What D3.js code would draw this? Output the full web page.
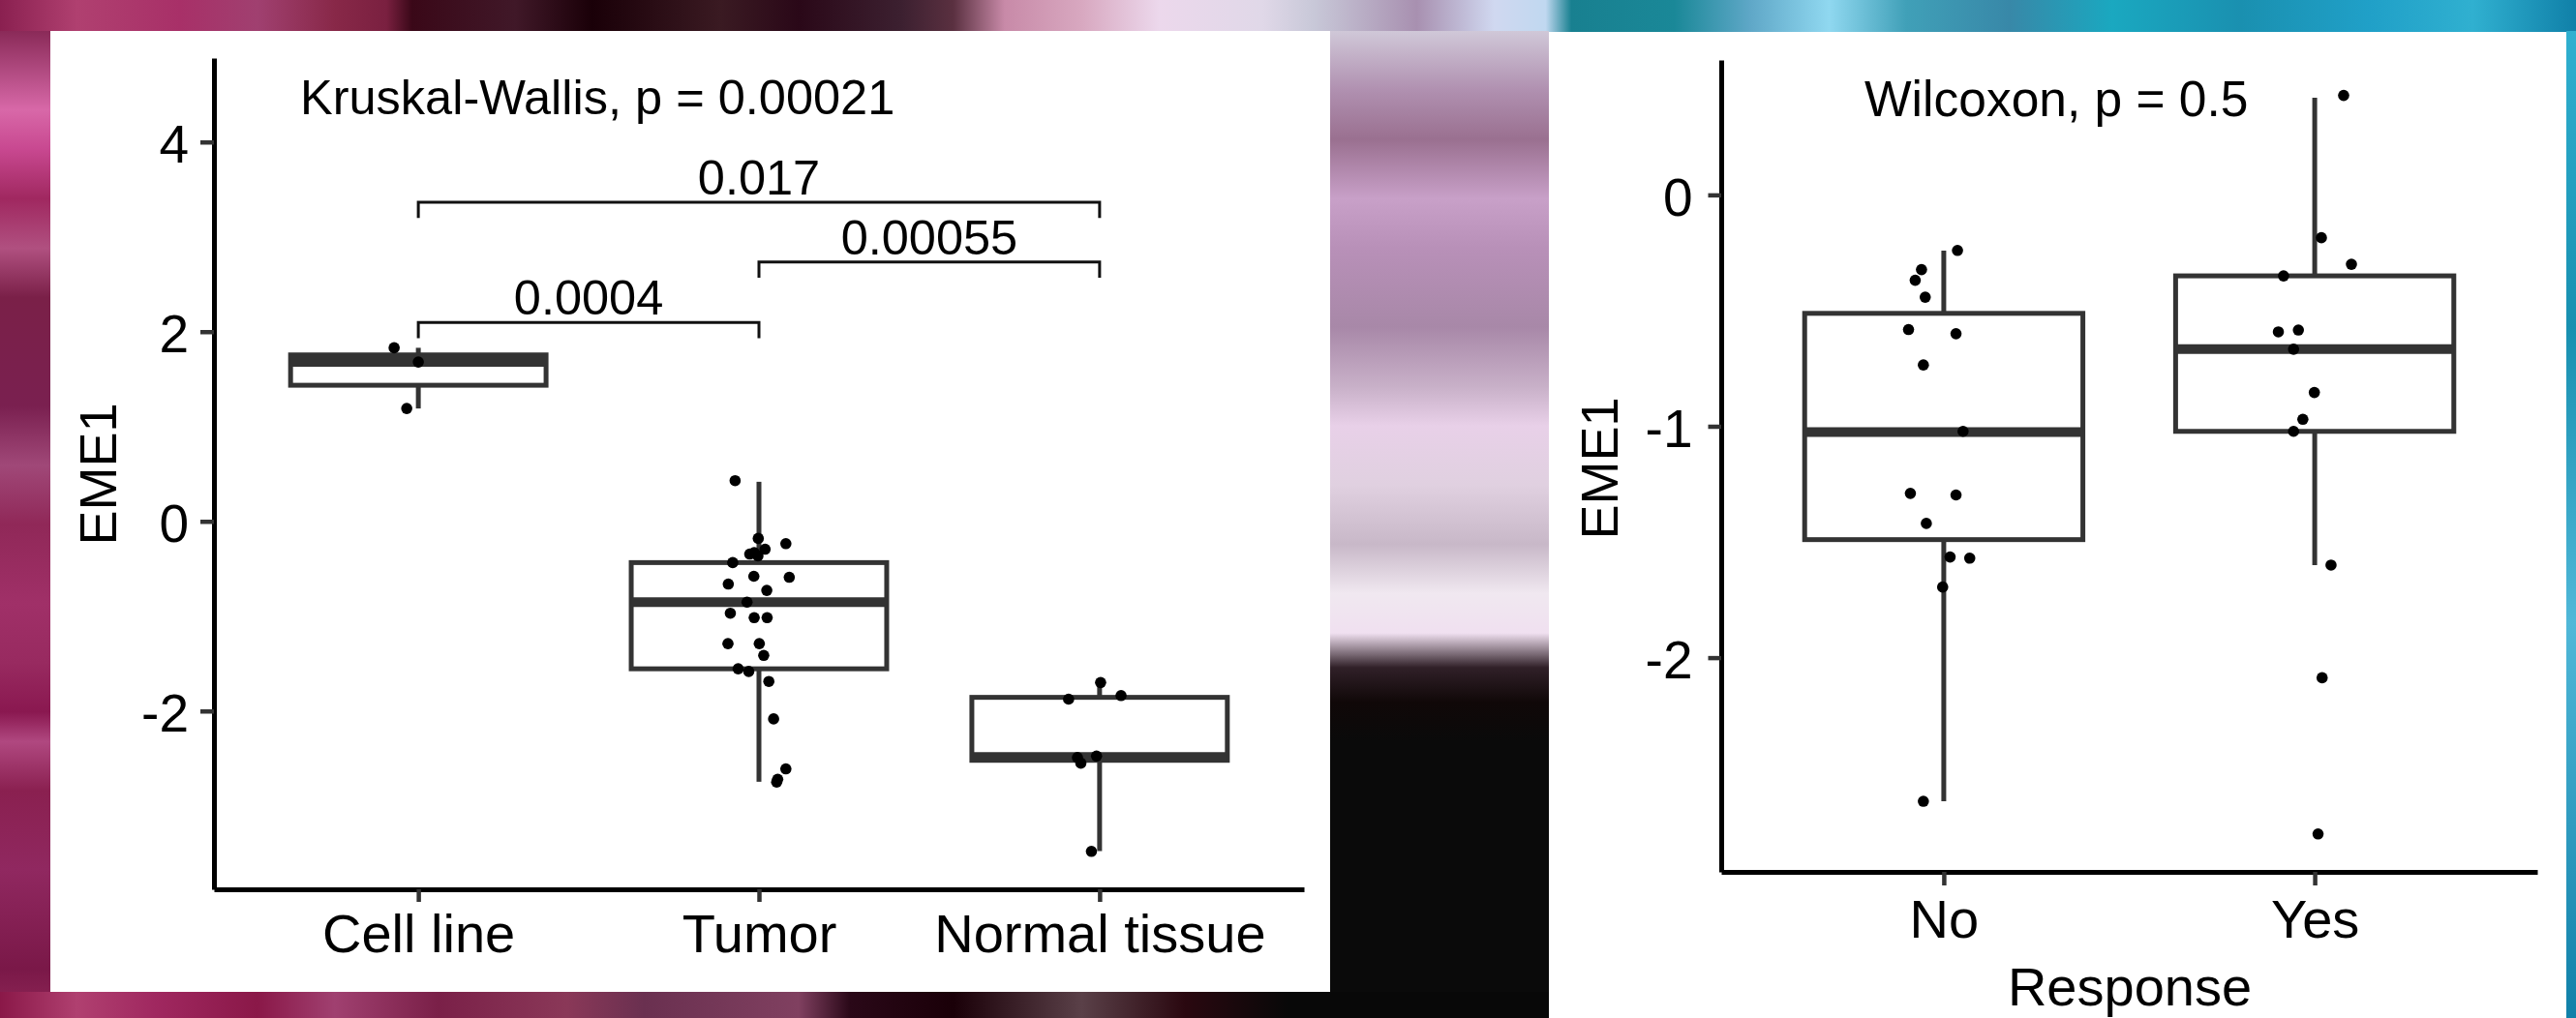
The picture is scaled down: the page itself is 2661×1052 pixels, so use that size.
<!DOCTYPE html>
<html>
<head>
<meta charset="utf-8">
<script src="https://cdn.jsdelivr.net/npm/d3@7"></script>
<style>
    body { margin: 0; background: #0a0a0a; overflow: hidden; }
    svg { display: block; font-family: "Liberation Sans", Arial, Helvetica, sans-serif; }
</style>
</head>
<body>
<script>
//---- data ----

//left panel: sample type
var leftGroups = ["Cell line", "Tumor", "Normal tissue"];
var cellLineValues = [1.83, 1.68, 1.19];
var cellLineJitter = [-0.071, 0.0, -0.034];
var tumorValues = [0.429, -0.18, -0.235, -0.294, -0.345, -0.364, -0.33, -0.435, -0.579, -0.59, -0.661, -0.728,
    -0.852, -0.969, -1.016, -1.016, -1.29, -1.29, -1.414, -1.555, -1.583, -1.688, -2.083, -2.61, -2.75, -2.72];
var tumorJitter = [-0.070, -0.002, 0.079, 0.018, -0.027, -0.003, -0.014, -0.077, -0.015, 0.089, -0.090, 0.023,
    -0.035, -0.084, -0.014, 0.024, -0.091, 0.001, 0.014, -0.061, -0.030, 0.029, 0.043, 0.079, 0.052, 0.055];
var normalValues = [-1.70, -1.875, -1.837, -2.49, -2.55, -2.475, -3.48];
var normalJitter = [0.003, -0.091, 0.063, -0.065, -0.055, -0.009, -0.024];

//box statistics per group (lower whisker, Q1, median, Q3, upper whisker)
var leftWhiskerLow = [1.19, -2.746, -3.477];
var leftQ1 = [1.435, -1.555, -2.52];
var leftMedian = [1.68, -0.852, -2.485];
var leftQ3 = [1.755, -0.435, -1.856];
var leftWhiskerHigh = [1.83, 0.417, -1.70];

var leftYTicks = [-2, 0, 2, 4];
var leftTestLabel = "Kruskal-Wallis, p = 0.00021";

//pairwise comparisons
var bracketFrom = ["Cell line", "Tumor", "Cell line"];
var bracketTo = ["Tumor", "Normal tissue", "Normal tissue"];
var bracketY = [2.096, 2.735, 3.364];
var bracketLabels = ["0.0004", "0.00055", "0.017"];

//right panel: response
var rightGroups = ["No", "Yes"];
var noValues = [-0.24, -0.323, -0.369, -0.442, -0.582, -0.60, -0.735, -1.022, -1.29, -1.297, -1.42, -1.565, -1.57, -1.695, -2.621];
var noJitter = [0.037, -0.060, -0.077, -0.050, -0.095, 0.033, -0.055, 0.052, -0.090, 0.033, -0.047, 0.017, 0.070, -0.003, -0.055];
var yesValues = [0.43, -0.185, -0.30, -0.35, -0.584, -0.592, -0.667, -0.854, -0.97, -1.022, -1.60, -2.087, -2.762];
var yesJitter = [0.078, 0.018, 0.099, -0.084, -0.044, -0.098, -0.057, -0.001, -0.032, -0.057, 0.044, 0.020, 0.009];

var rightWhiskerLow = [-2.621, -1.60];
var rightQ1 = [-1.49, -1.022];
var rightMedian = [-1.025, -0.667];
var rightQ3 = [-0.512, -0.35];
var rightWhiskerHigh = [-0.241, 0.42];

var rightYTicks = [-2, -1, 0];
var rightTestLabel = "Wilcoxon, p = 0.5";
var rightXTitle = "Response";
var yTitle = "EME1";

//begin script when window loads
window.onload = setChart();

function setChart(){
    var width = 2661,
        height = 1052;

    var svg = d3.select("body")
        .append("svg")
        .attr("width", width)
        .attr("height", height);

    drawBackground(svg);

    //white panels
    svg.append("rect").attr("x", 52).attr("y", 32).attr("width", 1322).attr("height", 993).attr("fill", "#fff");
    svg.append("rect").attr("x", 1600).attr("y", 33).attr("width", 1051).attr("height", 1019).attr("fill", "#fff");

    //left panel
    var left = drawPanel(svg, {
        groups: leftGroups,
        values: [cellLineValues, tumorValues, normalValues],
        jitter: [cellLineJitter, tumorJitter, normalJitter],
        low: leftWhiskerLow, q1: leftQ1, med: leftMedian, q3: leftQ3, high: leftWhiskerHigh,
        yDomain: [-3.88, 4.885], yTicks: leftYTicks,
        x0: 221, x1: 1347, y0: 60, y1: 919,
        ytickSize: 14, ytickPad: 12, xtickSize: 13, xtickPad: 12,
        title: leftTestLabel, titleX: 310, titleY: 118, titleSize: 50.5,
        yTitleX: 120, yTitleY: 490
    });

    //comparison brackets
    var tip = 0.165;
    var brackets = left.g.selectAll(".bracket")
        .data(bracketLabels)
        .enter()
        .append("g")
        .attr("class", "bracket");

    brackets.append("path")
        .attr("d", function(d, i){
            var xa = left.x(bracketFrom[i]), xb = left.x(bracketTo[i]);
            var yl = left.y(bracketY[i]), yt = left.y(bracketY[i] - tip);
            return "M" + xa + "," + yt + "V" + yl + "H" + xb + "V" + yt;
        })
        .attr("fill", "none")
        .attr("stroke", "#111")
        .attr("stroke-width", 3);

    brackets.append("text")
        .attr("x", function(d, i){ return (left.x(bracketFrom[i]) + left.x(bracketTo[i])) / 2; })
        .attr("y", function(d, i){ return left.y(bracketY[i]) - 8; })
        .attr("text-anchor", "middle")
        .attr("font-size", 50.5)
        .text(function(d){ return d; });

    //right panel
    var right = drawPanel(svg, {
        groups: rightGroups,
        values: [noValues, yesValues],
        jitter: [noJitter, yesJitter],
        low: rightWhiskerLow, q1: rightQ1, med: rightMedian, q3: rightQ3, high: rightWhiskerHigh,
        yDomain: [-2.926, 0.583], yTicks: rightYTicks,
        x0: 1778, x1: 2621, y0: 62, y1: 901,
        ytickSize: 13.5, ytickPad: 16, xtickSize: 14, xtickPad: 14,
        title: rightTestLabel, titleX: 1926, titleY: 120, titleSize: 51.5,
        yTitleX: 1671, yTitleY: 484
    });

    //x axis title (sits on the lower edge, as in the figure)
    svg.append("text")
        .attr("x", 2200)
        .attr("y", 1039)
        .attr("text-anchor", "middle")
        .attr("font-size", 56)
        .text(rightXTitle);
};

//one boxplot panel with jittered points
function drawPanel(svg, c){
    var g = svg.append("g");

    var x = d3.scalePoint()
        .domain(c.groups)
        .range([c.x0, c.x1])
        .padding(0.6);

    var y = d3.scaleLinear()
        .domain(c.yDomain)
        .range([c.y1, c.y0]);

    var bw = x.step() * 0.75;

    //boxes
    var boxes = g.selectAll(".box")
        .data(c.groups)
        .enter()
        .append("g")
        .attr("class", "box");

    boxes.append("line")
        .attr("x1", function(d){ return x(d); })
        .attr("x2", function(d){ return x(d); })
        .attr("y1", function(d, i){ return y(c.q3[i]); })
        .attr("y2", function(d, i){ return y(c.high[i]); })
        .attr("stroke", "#333")
        .attr("stroke-width", 5);

    boxes.append("line")
        .attr("x1", function(d){ return x(d); })
        .attr("x2", function(d){ return x(d); })
        .attr("y1", function(d, i){ return y(c.q1[i]); })
        .attr("y2", function(d, i){ return y(c.low[i]); })
        .attr("stroke", "#333")
        .attr("stroke-width", 5);

    boxes.append("rect")
        .attr("x", function(d){ return x(d) - bw / 2; })
        .attr("y", function(d, i){ return y(c.q3[i]); })
        .attr("width", bw)
        .attr("height", function(d, i){ return y(c.q1[i]) - y(c.q3[i]); })
        .attr("fill", "#fff")
        .attr("stroke", "#333")
        .attr("stroke-width", 5);

    boxes.append("line")
        .attr("x1", function(d){ return x(d) - bw / 2; })
        .attr("x2", function(d){ return x(d) + bw / 2; })
        .attr("y1", function(d, i){ return y(c.med[i]); })
        .attr("y2", function(d, i){ return y(c.med[i]); })
        .attr("stroke", "#333")
        .attr("stroke-width", 10);

    //jittered points
    c.groups.forEach(function(grp, i){
        g.selectAll(".pt" + i)
            .data(c.values[i])
            .enter()
            .append("circle")
            .attr("class", "pt" + i)
            .attr("cx", function(d, j){ return x(grp) + c.jitter[i][j] * x.step(); })
            .attr("cy", function(d){ return y(d); })
            .attr("r", 5.8)
            .attr("fill", "#000");
    });

    //axes
    var yAxis = g.append("g")
        .attr("transform", "translate(" + c.x0 + ",0)")
        .call(d3.axisLeft(y)
            .tickValues(c.yTicks)
            .tickFormat(function(d){ return String(d); })
            .tickSize(c.ytickSize)
            .tickSizeOuter(0)
            .tickPadding(c.ytickPad));

    var xAxis = g.append("g")
        .attr("transform", "translate(0," + c.y1 + ")")
        .call(d3.axisBottom(x)
            .tickSize(c.xtickSize)
            .tickSizeOuter(0)
            .tickPadding(c.xtickPad));

    [yAxis, xAxis].forEach(function(a){
        a.attr("font-family", null).attr("font-size", null);
        a.select(".domain").attr("stroke", "#000").attr("stroke-width", 5);
        a.selectAll(".tick line").attr("stroke", "#333").attr("stroke-width", 4.5);
        a.selectAll(".tick text").attr("fill", "#000").attr("font-size", 55);
    });
    yAxis.selectAll(".tick text").attr("dy", "0.38em");
    xAxis.selectAll(".tick text").attr("font-size", 56);

    //test label and y title
    g.append("text")
        .attr("x", c.titleX)
        .attr("y", c.titleY)
        .attr("font-size", c.titleSize)
        .text(c.title);

    g.append("text")
        .attr("transform", "translate(" + c.yTitleX + "," + c.yTitleY + ") rotate(-90)")
        .attr("text-anchor", "middle")
        .attr("font-size", 54)
        .text(yTitle);

    return { g: g, x: x, y: y };
};

//blurred photo behind the panels, made of gradients
function drawBackground(svg){
    var defs = svg.append("defs");

    function grad(id, vertical, stops){
        var lg = defs.append("linearGradient")
            .attr("id", id)
            .attr("x1", 0).attr("y1", 0)
            .attr("x2", vertical ? 0 : 1).attr("y2", vertical ? 1 : 0);
        stops.forEach(function(s){
            lg.append("stop").attr("offset", s[0]).attr("stop-color", s[1]);
        });
    }

    grad("topGrad", false, [
        [0, "#8a2050"], [0.03, "#b04070"], [0.07, "#a83068"], [0.10, "#a04070"], [0.13, "#882848"],
        [0.15, "#7a2040"], [0.16, "#3a0818"], [0.20, "#401828"], [0.23, "#1a0008"], [0.28, "#3a1a22"],
        [0.31, "#2a0818"], [0.35, "#3c2030"], [0.37, "#5a3040"], [0.39, "#c88aa8"], [0.42, "#d8a8c0"],
        [0.45, "#ecd8ec"], [0.49, "#e0d8e8"], [0.51, "#c8c8d8"], [0.55, "#a890b0"], [0.58, "#d0d8f0"],
        [0.60, "#c0d8f0"], [0.61, "#188090"], [0.65, "#1a8898"], [0.68, "#60a8c8"], [0.71, "#90d8f0"],
        [0.74, "#40a0b8"], [0.78, "#3888a8"], [0.82, "#1aa8c0"], [0.87, "#1a90b0"], [0.92, "#20a0c8"],
        [0.96, "#30b0d0"], [1, "#1080a8"]
    ]);
    grad("leftGrad", true, [
        [0, "#8a2a58"], [0.04, "#b04a80"], [0.08, "#d868a8"], [0.12, "#c84890"], [0.17, "#a02860"],
        [0.22, "#b05080"], [0.27, "#7a2048"], [0.38, "#7a2050"], [0.44, "#a04878"], [0.50, "#902858"],
        [0.58, "#a03068"], [0.64, "#982a60"], [0.69, "#8a1850"], [0.72, "#b04880"], [0.77, "#8a2050"],
        [0.85, "#902860"], [0.95, "#7a1848"], [1, "#902858"]
    ]);
    grad("midGrad", true, [
        [0, "#d0c8d8"], [0.06, "#b090b0"], [0.11, "#9a7090"], [0.17, "#c8a0c8"], [0.22, "#b890b8"],
        [0.30, "#a888a8"], [0.36, "#c8b0c8"], [0.40, "#e8d0e8"], [0.46, "#e0d0e0"], [0.52, "#c8b8c8"],
        [0.57, "#f0e8f0"], [0.61, "#f0e0f0"], [0.645, "#302028"], [0.68, "#100808"], [0.72, "#0a0a0a"],
        [1, "#0a0a0a"]
    ]);
    grad("bottomGrad", false, [
        [0, "#8a1848"], [0.03, "#b04070"], [0.06, "#a02860"], [0.10, "#8a1848"], [0.13, "#a04070"],
        [0.17, "#7a2048"], [0.22, "#8a3858"], [0.25, "#6a3050"], [0.31, "#804060"], [0.33, "#2a0818"],
        [0.37, "#1a0008"], [0.42, "#5a4048"], [0.46, "#2a0810"], [0.50, "#080808"], [1, "#080808"]
    ]);
    grad("rightGrad", true, [
        [0, "#30b0d0"], [0.3, "#1890b0"], [0.6, "#50b8d8"], [1, "#1080a8"]
    ]);

    svg.append("rect").attr("width", 2661).attr("height", 1052).attr("fill", "url(#topGrad)");
    svg.append("rect").attr("x", 0).attr("y", 32).attr("width", 52).attr("height", 1020).attr("fill", "url(#leftGrad)");
    svg.append("rect").attr("x", 1374).attr("y", 32).attr("width", 226).attr("height", 1020).attr("fill", "url(#midGrad)");
    svg.append("rect").attr("x", 0).attr("y", 1025).attr("width", 2661).attr("height", 27).attr("fill", "url(#bottomGrad)");
    svg.append("rect").attr("x", 2651).attr("y", 32).attr("width", 10).attr("height", 1020).attr("fill", "url(#rightGrad)");
};
</script>
</body>
</html>
